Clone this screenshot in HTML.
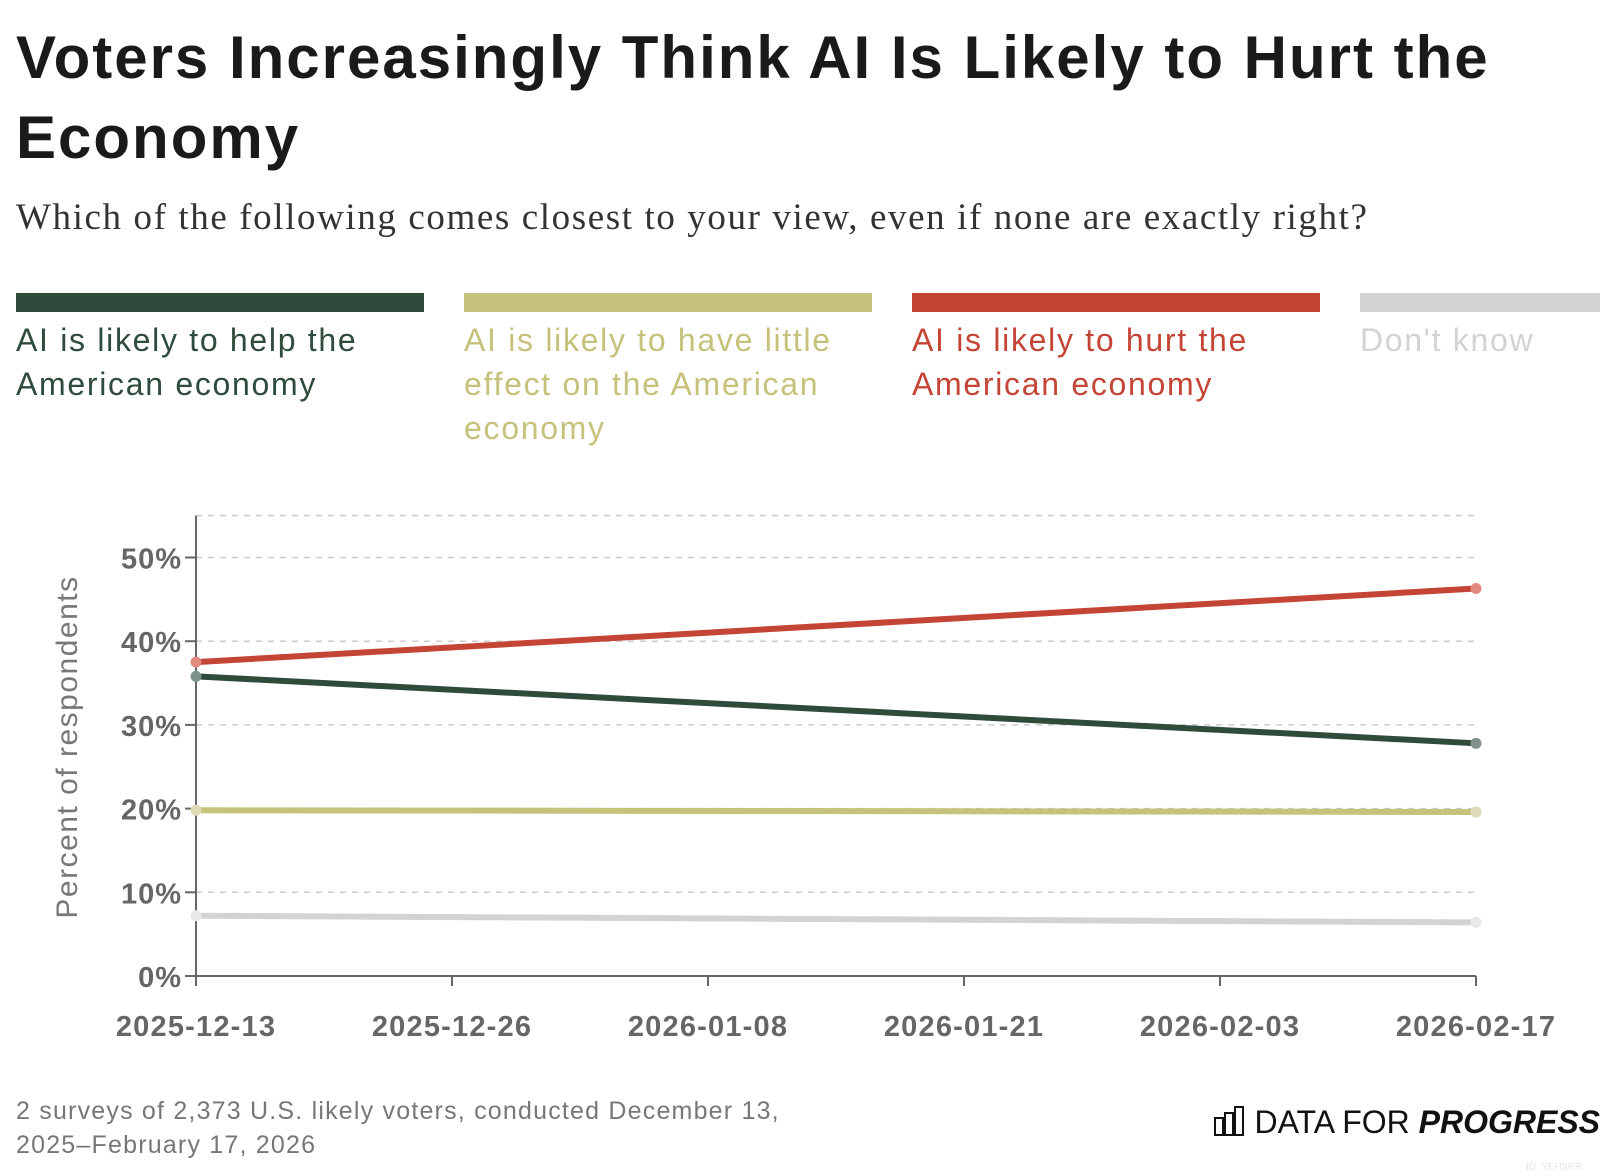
<!DOCTYPE html>
<html><head><meta charset="utf-8"><style>
body{margin:0;width:1616px;height:1176px;background:#fff;font-family:"Liberation Sans",sans-serif;overflow:hidden;position:relative}
.t{position:absolute;left:16px;top:18px;font-size:60px;font-weight:bold;color:#1a1a1a;line-height:80px;letter-spacing:2px}
.s{position:absolute;left:16px;top:196px;font-family:"Liberation Serif",serif;font-size:37px;letter-spacing:1.6px;color:#333}
.lg{position:absolute;top:293px;width:408px}
.lg .b{height:19px}
.lg .x{font-size:32px;letter-spacing:1.7px;line-height:44px;margin-top:6px;white-space:nowrap}
.f{position:absolute;left:16px;top:1094px;font-size:25px;letter-spacing:1.2px;line-height:34px;color:#777}
</style></head><body>
<div class="t">Voters Increasingly Think AI Is Likely to Hurt the<br>Economy</div>
<div class="s">Which of the following comes closest to your view, even if none are exactly right?</div>
<div class="lg" style="left:16px"><div class="b" style="background:#2f4b3c"></div><div class="x" style="color:#2f4b3c">AI is likely to help the<br>American economy</div></div>
<div class="lg" style="left:464px"><div class="b" style="background:#c6c27c"></div><div class="x" style="color:#c6c27c">AI is likely to have little<br>effect on the American<br>economy</div></div>
<div class="lg" style="left:912px"><div class="b" style="background:#c44536"></div><div class="x" style="color:#c44536">AI is likely to hurt the<br>American economy</div></div>
<div class="lg" style="left:1360px;width:240px"><div class="b" style="background:#d3d3d3"></div><div class="x" style="color:#d3d3d3">Don't know</div></div>
<svg id="c" width="1616" height="1176" style="position:absolute;left:0;top:0"></svg>
<div class="f">2 surveys of 2,373 U.S. likely voters, conducted December 13,<br>2025–February 17, 2026</div>
<div style="position:absolute;right:16px;top:1104px;font-size:32px;color:#111;white-space:nowrap"><svg width="32" height="30" style="vertical-align:-3px;margin-right:8px"><g fill="none" stroke="#111" stroke-width="2"><rect x="1" y="12" width="8" height="17"/><rect x="11" y="7" width="8" height="22"/><rect x="21" y="1" width="8" height="28"/></g></svg>DATA FOR <b><i>PROGRESS</i></b></div>
<div style="position:absolute;left:1526px;top:1162px;font-size:10px;color:#e6e6e6">ID: YEH9RR</div>
<script>
const dates=["2025-12-13","2026-02-17"];
const tickLabels=["2025-12-13","2025-12-26","2026-01-08","2026-01-21","2026-02-03","2026-02-17"];
const yTicks=[0,10,20,30,40,50];
const help=[35.8,27.8];
const little=[19.8,19.6];
const hurt=[37.5,46.3];
const dontKnow=[7.2,6.4];
const seriesColors=["#2f4b3c","#c6c27c","#c44536","#d3d3d3"];
const dotColors=["#7f938a","#dedcb8","#e38a80","#e8e8e8"];
const NS="http://www.w3.org/2000/svg";
const svg=document.getElementById('c');
const X0=196,X1=1476,Y0=976,PX=8.37;
const t0=Date.parse(dates[0]),t1=Date.parse(dates[dates.length-1]);
function xd(d){return X0+(Date.parse(d)-t0)/(t1-t0)*(X1-X0);}
function xi(i){return X0+i*(X1-X0)/(tickLabels.length-1);}
function y(v){return Y0-v*PX;}
function mk(tag,a){const e=document.createElementNS(NS,tag);for(const k in a)e.setAttribute(k,a[k]);svg.appendChild(e);return e;}
const FF='Liberation Sans, sans-serif';
let g=mk('line',{x1:X0,x2:X1,y1:y(55),y2:y(55),stroke:'#ccc','stroke-width':1.5,'stroke-dasharray':'6,6'});


yTicks.forEach(v=>{
 if(v>0){const l=mk('line',{x1:X0,x2:X1,y1:y(v),y2:y(v),stroke:'#ccc','stroke-width':1.5,'stroke-dasharray':'6,6'});
 
 }
 const tk=mk('line',{x1:X0-11,x2:X0,y1:y(v),y2:y(v),stroke:'#666','stroke-width':2});
 
 
 const t=mk('text',{x:X0-14,y:y(v)+11,'text-anchor':'end','font-size':29,'letter-spacing':1,'font-weight':'bold',fill:'#666','font-family':FF});
 t.textContent=v+'%';
 
 
});
let ax=mk('line',{x1:X0,x2:X0,y1:y(55),y2:Y0+9,stroke:'#666','stroke-width':2});


let bx=mk('line',{x1:X0,x2:X1,y1:Y0,y2:Y0,stroke:'#666','stroke-width':2});


tickLabels.forEach((s,i)=>{
 const tk=mk('line',{x1:xi(i),x2:xi(i),y1:Y0,y2:Y0+10,stroke:'#666','stroke-width':2});
 
 
 const t=mk('text',{x:xi(i),y:1036,'text-anchor':'middle','font-size':29,'letter-spacing':1.2,'font-weight':'bold',fill:'#666','font-family':FF});
 t.textContent=s;
 
 
});
let yt=mk('text',{x:0,y:0,transform:'translate(77,747) rotate(-90)','text-anchor':'middle','font-size':30,'letter-spacing':1.5,fill:'#777','font-family':FF});
yt.textContent='Percent of respondents';


const names=['help','little-effect','hurt','dont-know'];
const all=[help,little,hurt,dontKnow];
[3,1,0,2].forEach(k=>{
 const s=all[k];
 const pts=s.map((v,i)=>xd(dates[i])+','+y(v)).join(' ');
 const p=mk('polyline',{points:pts,fill:'none',stroke:seriesColors[k],'stroke-width':6});
 
 
 s.forEach((v,i)=>{
  const c=mk('circle',{cx:xd(dates[i]),cy:y(v),r:5.5,fill:dotColors[k]});
  
  
 });
});
</script>
</body></html>
